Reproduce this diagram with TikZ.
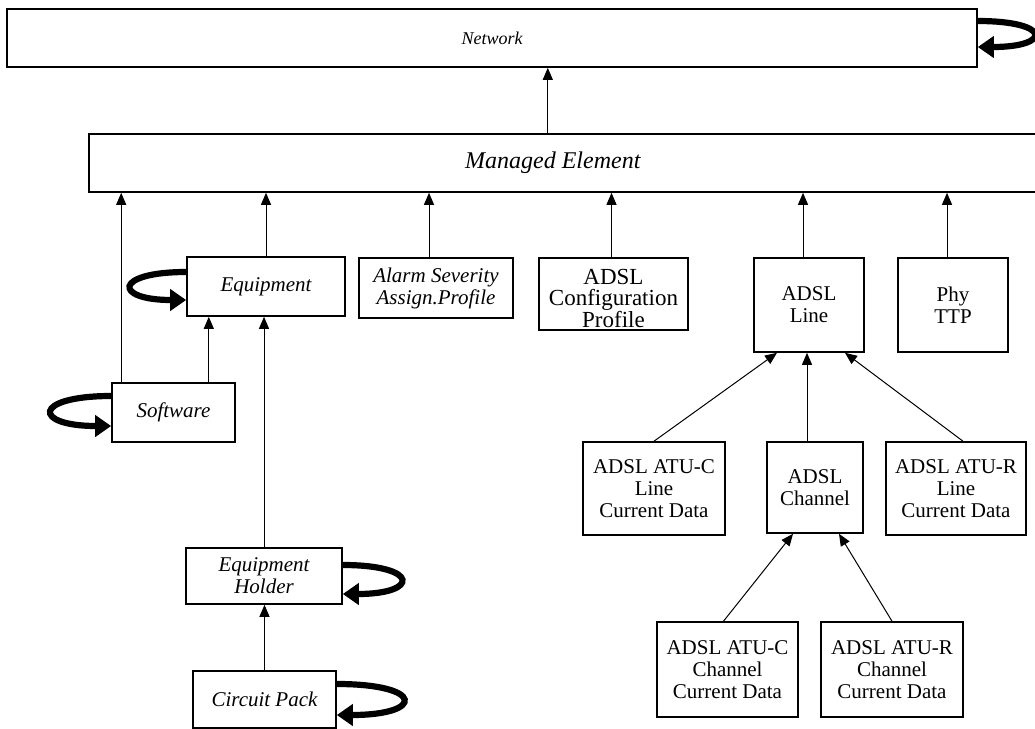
\documentclass[tikz,border=0pt]{standalone}
\usepackage{fontspec}
\setmainfont{Liberation Serif}
\usetikzlibrary{arrows.meta}
\tikzstyle{classbox}=[draw, line width=0.8pt, align=center, inner sep=1pt,
    font=\fontsize{10.5}{11}\selectfont]
\tikzstyle{italicbox}=[classbox, font=\fontsize{10.5}{11}\selectfont\itshape]
\tikzstyle{uplink}=[-{Triangle[length=6pt,width=5pt]}, line width=0.5pt]
\tikzstyle{selfloop}=[-{Triangle[length=8pt,width=10.5pt]}, line width=3.1pt]

\begin{document}
\begin{tikzpicture}[x=0.5pt,y=-0.5pt]
\clip (0,0) rectangle (1035,729);
% Network
\path (492,38) node [italicbox, minimum width=485pt, minimum height=29pt,
    font=\fontsize{9}{11}\selectfont\itshape] (net) {Network};
% Managed Element (runs off the right edge)
\path (88,163) node [italicbox, anchor=west, minimum width=486pt, minimum height=29pt,
    font=\fontsize{12}{13}\selectfont\itshape] (me) {Managed Element\hspace{22pt}};
% left column
\path (266,286.5) node [italicbox, minimum width=79pt, minimum height=29.5pt] (equip) {Equipment};
\path (173.5,412.5) node [italicbox, minimum width=61.5pt, minimum height=29.5pt] (soft) {Software};
\path (264,576) node [italicbox, minimum width=78pt, minimum height=28pt] (holder) {Equipment\\Holder};
\path (264.5,699.5) node [italicbox, minimum width=71.5pt, minimum height=28.5pt] (cpack) {Circuit Pack};
% profiles
\path (436,288) node [italicbox, minimum width=77pt, minimum height=30pt] (alarm) {Alarm Severity\\Assign.Profile};
\path (613.5,294) node [classbox, minimum width=74.5pt, minimum height=36pt,
    label={[align=center, yshift=-2pt, font=\fontsize{11.5}{10.75}\selectfont]center:ADSL\\Configuration\\Profile}] (conf) {};
% ADSL line and termination
\path (809,305) node [classbox, minimum width=55pt, minimum height=47pt] (line) {ADSL\\Line};
\path (953,305) node [classbox, minimum width=55pt, minimum height=47pt] (phy) {Phy\\TTP};
% line current data
\path (654,488.5) node [classbox, minimum width=71pt, minimum height=46.5pt] (atucl) {ADSL ATU-C\\Line\\Current Data};
\path (815,487.5) node [classbox, minimum width=48pt, minimum height=45.5pt] (chan) {ADSL\\Channel};
\path (956,488.5) node [classbox, minimum width=70pt, minimum height=46.5pt] (aturl) {ADSL ATU-R\\Line\\Current Data};
% channel current data
\path (727.5,669.5) node [classbox, minimum width=70.5pt, minimum height=47.5pt] (atucc) {ADSL ATU-C\\Channel\\Current Data};
\path (892,669.5) node [classbox, minimum width=71pt, minimum height=47.5pt] (aturc) {ADSL ATU-R\\Channel\\Current Data};

% arrows
\draw [uplink] ([xshift=-13.5pt]me.north) -- ([xshift=-13.5pt]me.north |- net.south);
\draw [uplink] ([xshift=5pt]soft.north west) -- ([xshift=5pt]soft.north west |- me.south);
\draw [uplink] ([xshift=-13.5pt]soft.north east) -- ([xshift=-13.5pt]soft.north east |- equip.south);
\draw [uplink] (equip.north) -- (equip.north |- me.south);
\draw [uplink] (holder.north) -- (holder.north |- equip.south);
\draw [uplink] (cpack.north) -- (cpack.north |- holder.south);
\draw [uplink] ([xshift=-3.5pt]alarm.north) -- ([xshift=-3.5pt]alarm.north |- me.south);
\draw [uplink] ([xshift=-1pt]conf.north) -- ([xshift=-1pt]conf.north |- me.south);
\draw [uplink] ([xshift=-3pt]line.north) -- ([xshift=-3pt]line.north |- me.south);
\draw [uplink] ([xshift=-3pt]phy.north) -- ([xshift=-3pt]phy.north |- me.south);
\draw [uplink] (atucl.north) -- ([xshift=-16pt]line.south);
\draw [uplink] ([xshift=-4pt]chan.north) -- ([xshift=-4pt]chan.north |- line.south);
\draw [uplink] ([xshift=3.5pt]aturl.north) -- ([xshift=18pt]line.south);
\draw [uplink] ([xshift=-2pt]atucc.north) -- ([xshift=-11pt]chan.south);
\draw [uplink] (aturc.north) -- ([xshift=12pt]chan.south);

% self loops
\draw [selfloop] ([yshift=8.5pt]net.east) .. controls +(37pt,0pt) and +(37pt,0pt) .. ([yshift=-4.5pt]net.east);
\draw [selfloop] ([yshift=7.25pt]equip.west) .. controls +(-36.5pt,0pt) and +(-36.5pt,0pt) .. ([yshift=-6.75pt]equip.west);
\draw [selfloop] ([yshift=8.25pt]soft.west) .. controls +(-39.5pt,0pt) and +(-39.5pt,0pt) .. ([yshift=-6.75pt]soft.west);
\draw [selfloop] ([yshift=5.5pt]holder.east) .. controls +(38.5pt,0pt) and +(38.5pt,0pt) .. ([yshift=-9pt]holder.east);
\draw [selfloop] ([yshift=7.75pt]cpack.east) .. controls +(44pt,0pt) and +(44pt,0pt) .. ([yshift=-7.75pt]cpack.east);
\end{tikzpicture}
\end{document}
